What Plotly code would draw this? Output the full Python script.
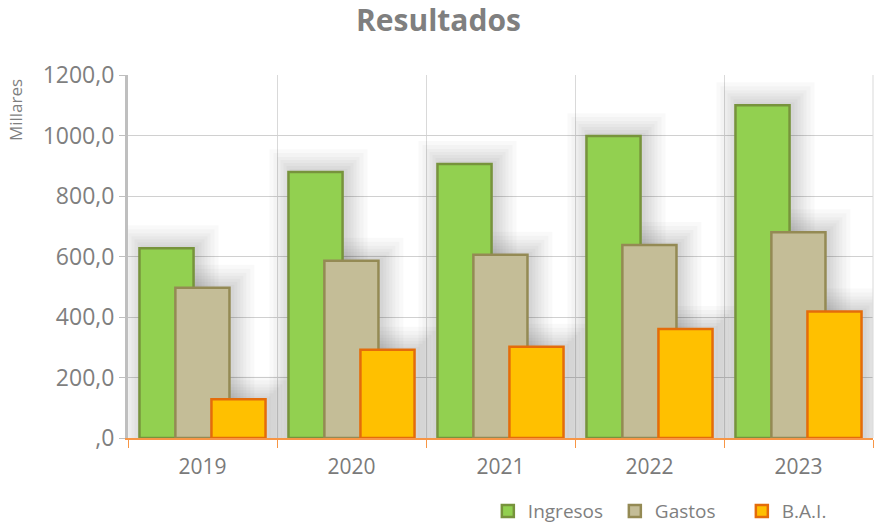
import plotly.graph_objects as go

years = ["2019", "2020", "2021", "2022", "2023"]
ingresos = [627, 879, 906, 998, 1100]
gastos = [497, 586, 606, 638, 680]
bai = [128, 292, 302, 360, 418]

y_ticks = [0, 200, 400, 600, 800, 1000, 1200]
y_labels = [",0", "200,0", "400,0", "600,0", "800,0", "1000,0", "1200,0"]

series = [
    ("Ingresos", ingresos, "#92d050", "#77933c", -0.423),
    ("Gastos", gastos, "#c4bd97", "#948a54", -0.182),
    ("B.A.I.", bai, "#ffc000", "#e46c0a", 0.060),
]
bw = 0.363
px_x = 1 / 149      # category units per pixel
px_y = 1 / 0.3028   # value units per pixel

fig = go.Figure()

# soft blurred shadows behind the bars
for name, vals, fill, line, off in series:
    for grow in [22, 18, 14, 11, 8, 5, 2]:
        fig.add_trace(go.Bar(
            x=years, y=[v + (grow + 1) * px_y for v in vals],
            width=bw + 2 * grow * px_x, offset=off - grow * px_x + 3 * px_x,
            marker=dict(color="rgba(0,0,0,0.022)", line=dict(width=0)),
            showlegend=False, hoverinfo="skip"
        ))

for name, vals, fill, line, off in series:
    fig.add_trace(go.Bar(
        x=years, y=vals, name=name,
        width=bw, offset=off,
        marker=dict(color=fill, line=dict(color=line, width=2.5))
    ))

fig.update_layout(
    barmode="overlay",
    width=877, height=527,
    margin=dict(l=128, r=4, t=75, b=89),
    paper_bgcolor="white",
    plot_bgcolor="white",
    font=dict(family="Open Sans, Noto Sans, sans-serif", color="#7f7f7f"),
    title=dict(text="<b>Resultados</b>", x=0.5, xanchor="center", y=0.962,
               yanchor="middle", font=dict(size=30, color="#7f7f7f")),
    legend=dict(orientation="h", x=0.483, xref="paper", y=0.03, yref="container",
                xanchor="left", yanchor="middle",
                font=dict(size=19, color="#7f7f7f"), itemwidth=30,
                entrywidth=82, traceorder="normal"),
    xaxis=dict(
        type="category", tickson="boundaries", ticks="outside", ticklen=8,
        tickcolor="#f79646", showline=True, linecolor="#f79646", linewidth=1.5,
        showgrid=True, gridcolor="#d9d9d9", gridwidth=1,
        tickfont=dict(size=21, color="#7a7a7a"), ticklabelstandoff=9,
        range=[-0.5, 4.5]
    ),
    yaxis=dict(
        range=[0, 1200], tickvals=y_ticks, ticktext=y_labels,
        showgrid=True, gridcolor="#d0d0d0", gridwidth=1,
        showline=True, linecolor="#bfbfbf", linewidth=3,
        ticks="outside", ticklen=6, tickcolor="#bfbfbf",
        tickfont=dict(size=23, color="#7f7f7f"), zeroline=False
    ),
    annotations=[dict(
        text="Millares", textangle=-90, x=-0.150, y=0.904, xref="paper", yref="paper",
        xanchor="center", yanchor="middle",
        showarrow=False, font=dict(size=17, color="#7f7f7f")
    )],
)
# right border of the plot area
fig.add_shape(type="line", xref="paper", yref="paper", x0=1, x1=1, y0=0, y1=1,
              line=dict(color="#d9d9d9", width=1))

fig.write_html("out.html", config={"displayModeBar": False},
               post_script="document.body.style.margin='0';")
